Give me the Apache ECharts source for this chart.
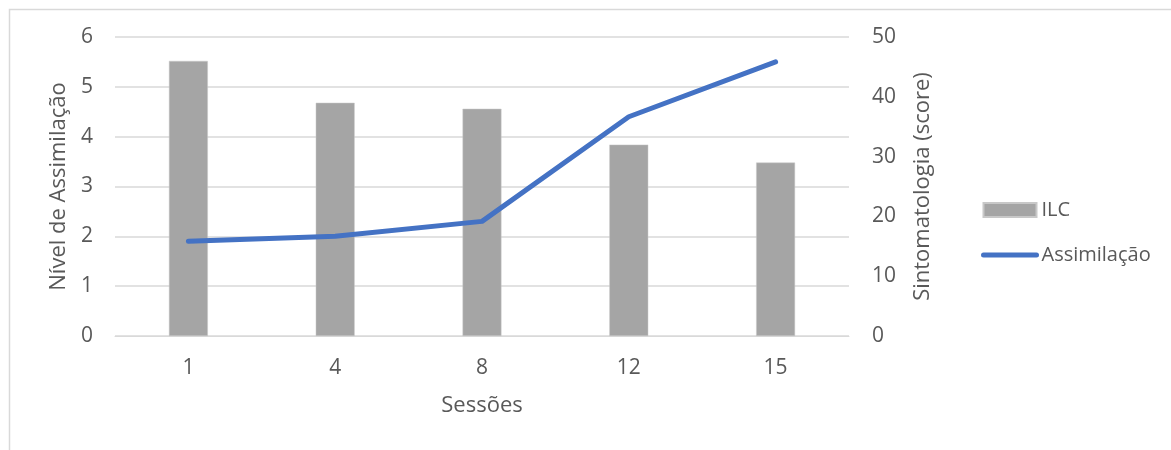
<!DOCTYPE html>
<html>
<head>
<meta charset="utf-8">
<script src="https://cdn.jsdelivr.net/npm/echarts@6/dist/echarts.min.js"></script>
<style>
html,body{margin:0;padding:0;background:#fff;}
#chart{width:1171px;height:450px;}
</style>
</head>
<body>
<div id="chart"></div>
<script>
const categories = ['1', '4', '8', '12', '15'];
const ilcValues = [46, 39, 38, 32, 29];
const assimilacaoValues = [1.9, 2.0, 2.3, 4.4, 5.5];
const leftTicks = {min: 0, max: 6, interval: 1};
const rightTicks = {min: 0, max: 50, interval: 10};

const font = '"Open Sans", sans-serif';
const txt = '#595959';
const chart = echarts.init(document.getElementById('chart'), null, {renderer: 'canvas'});
chart.setOption({
  backgroundColor: '#fff',
  animation: false,
  textStyle: {fontFamily: font, color: txt},
  graphic: [{
    type: 'rect', left: 7, top: 7,
    shape: {width: 1200, height: 443},
    style: {fill: 'none', stroke: '#d9d9d9', lineWidth: 1.5},
    silent: true, z: -1
  }],
  grid: {left: 115, right: 322, top: 37, bottom: 114, containLabel: false},
  legend: {
    orient: 'vertical', left: 981, top: 200, padding: 0,
    itemGap: 25, itemWidth: 53, itemHeight: 14,
    textStyle: {fontFamily: font, color: txt, fontSize: 20},
    data: [
      {name: 'ILC', icon: 'rect'},
      {name: 'Assimilação', itemStyle: {opacity: 0},
       lineStyle: {color: '#4472c4', width: 5, cap: 'round'}}
    ]
  },
  xAxis: {
    type: 'category', data: categories,
    name: 'Sessões', nameLocation: 'middle', nameGap: 59,
    nameTextStyle: {fontFamily: font, color: txt, fontSize: 22},
    axisLine: {show: true, lineStyle: {color: '#d9d9d9', width: 1}},
    axisTick: {show: false},
    axisLabel: {fontFamily: font, color: txt, fontSize: 21, margin: 22}
  },
  yAxis: [{
    type: 'value', min: leftTicks.min, max: leftTicks.max, interval: leftTicks.interval,
    name: 'Nível de Assimilação', nameLocation: 'middle', nameGap: 45,
    nameTextStyle: {fontFamily: font, color: txt, fontSize: 22},
    axisLine: {show: false}, axisTick: {show: false},
    axisLabel: {fontFamily: font, color: txt, fontSize: 21, margin: 22},
    splitLine: {lineStyle: {color: '#d9d9d9', width: 1.5}}
  }, {
    type: 'value', min: rightTicks.min, max: rightTicks.max, interval: rightTicks.interval,
    name: 'Sintomatologia (score)', nameLocation: 'middle', nameGap: 63,
    nameTextStyle: {fontFamily: font, color: txt, fontSize: 22},
    axisLine: {show: false}, axisTick: {show: false},
    axisLabel: {fontFamily: font, color: txt, fontSize: 21, margin: 23},
    splitLine: {show: false}
  }],
  series: [{
    name: 'ILC', type: 'bar', yAxisIndex: 1, data: ilcValues,
    barWidth: '26.5%',
    itemStyle: {color: '#a5a5a5', borderColor: '#c8c8c8', borderWidth: 0.5}
  }, {
    name: 'Assimilação', type: 'line', yAxisIndex: 0, data: assimilacaoValues,
    showSymbol: false, symbol: 'none',
    lineStyle: {color: '#4472c4', width: 5, cap: 'round', join: 'round'},
    itemStyle: {color: '#4472c4'}
  }]
});
</script>
</body>
</html>
